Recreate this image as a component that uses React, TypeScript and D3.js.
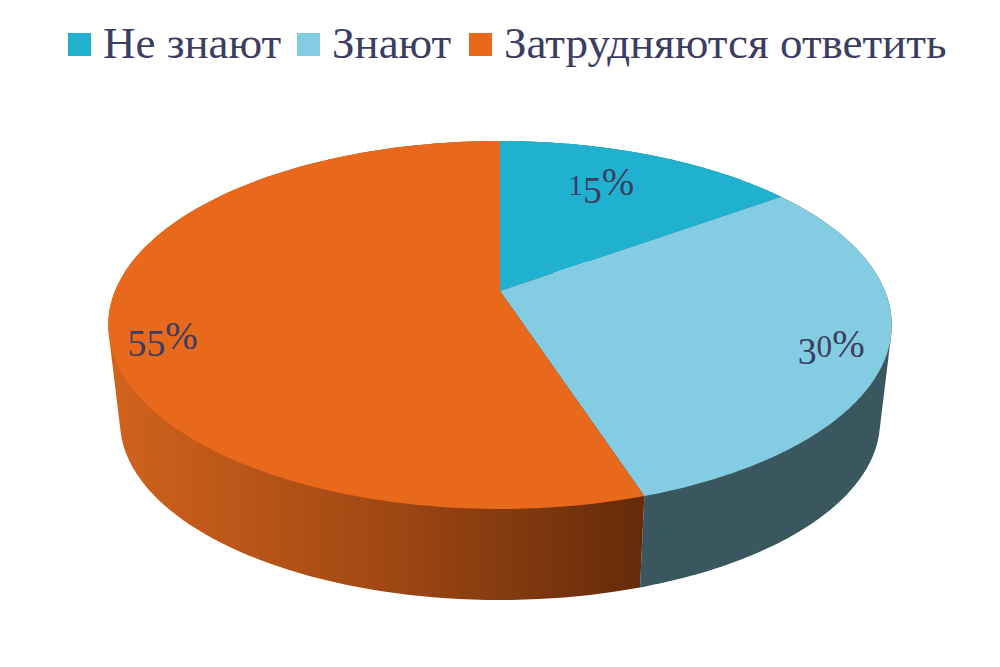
import * as d3 from 'd3';

const categories = ['Не знают', 'Знают', 'Затрудняются ответить'];
const values = [15, 30, 55];
const topColors = ['#21b1d0', '#83cce1', '#e8681c'];
const wallColors = ['#1a6d80', '#3a565e', 'url(#orangeWall)'];
const labelRadius = [0.64, 0.86, 0.865];
const labelShift = [-4, 16, 33];

const textColor = '#3b3d63';
const serif = "'Liberation Serif', serif";

// perspective disc: apex of the pie sits above the centre of the drawn ellipse
const cx = 500;
const cy = 291;
const radiusX = 385;
const radiusY = 177.7;
const tilt = -0.1848;
// rim bottom shrinks towards a far vanishing point below the pie
const vanishY = 3543;
const rimScale = 0.97;

const project = (angle: number, r = 1): [number, number] => {
  const s = Math.sin(angle) * r;
  const t = -Math.cos(angle) * r;
  const w = 1 + tilt * t;
  return [cx + (radiusX * s) / w, cy + (radiusY * t) / w];
};

const lower = ([x, y]: [number, number]): [number, number] => [
  cx + (x - cx) * rimScale,
  vanishY + (y - vanishY) * rimScale,
];

const sampleArc = (a0: number, a1: number) =>
  d3.range(0, 121).map((i) => project(a0 + ((a1 - a0) * i) / 120));

const line = d3.line<[number, number]>();

const arcs = d3.pie<number>().sort(null).value((d) => d)(values);

// oldstyle figures are not available in the installed fonts, so shift digits by hand
const digit = (ch: string) => {
  if (ch === '1') return { size: 0.72, dy: 0 };
  if ('02'.includes(ch)) return { size: 0.76, dy: 0 };
  if ('34579'.includes(ch)) return { size: 0.92, dy: 0.19 };
  return { size: 1, dy: 0 };
};

function PercentLabel({ x, y, value }: { x: number; y: number; value: number }) {
  const fontSize = 41;
  let prev = 0;
  const chars = String(value).split('');
  return (
    <text x={x} y={y} textAnchor="middle" fontFamily={serif} fontSize={fontSize} fill={textColor}>
      {chars.map((ch, i) => {
        const d = digit(ch);
        const dy = (d.dy - prev) * fontSize;
        prev = d.dy;
        return (
          <tspan key={i} dy={dy} fontSize={fontSize * d.size}>
            {ch}
          </tspan>
        );
      })}
      <tspan dy={-prev * fontSize} fontSize={39}>
        %
      </tspan>
    </text>
  );
}

export default function App() {
  const legendX = [68, 297, 469];

  return (
    <svg
      width={1000}
      height={667}
      viewBox="0 0 1000 667"
      style={{ position: 'absolute', left: 0, top: 0, background: '#fff' }}
    >
      <defs>
        <linearGradient id="orangeWall" gradientUnits="userSpaceOnUse" x1={120} x2={642} y1={0} y2={0}>
          <stop offset="0" stopColor="#cf621d" />
          <stop offset="0.5" stopColor="#a14813" />
          <stop offset="1" stopColor="#652b0a" />
        </linearGradient>
      </defs>

      {/* hull of both rims gives the wall with its straight side edges, the disc covers the rest */}
      {arcs.map((a, i) => {
        const top = sampleArc(a.startAngle, a.endAngle);
        const hull = d3.polygonHull([...top, ...top.map(lower)]) ?? [];
        return <path key={i} d={(line(hull) ?? '') + 'Z'} fill={wallColors[i]} />;
      })}

      {arcs.map((a, i) => {
        const rim = sampleArc(a.startAngle, a.endAngle);
        return <path key={i} d={(line([project(0, 0), ...rim]) ?? '') + 'Z'} fill={topColors[i]} />;
      })}

      {arcs.map((a, i) => {
        const [x, y] = project((a.startAngle + a.endAngle) / 2, labelRadius[i]);
        return <PercentLabel key={i} x={x} y={y + labelShift[i]} value={values[i]} />;
      })}

      {categories.map((c, i) => (
        <g key={c}>
          <rect x={legendX[i]} y={33} width={23} height={23} fill={topColors[i]} />
          <text x={legendX[i] + 35} y={58} fontFamily={serif} fontSize={45} fill={textColor}>
            {c}
          </text>
        </g>
      ))}
    </svg>
  );
}
